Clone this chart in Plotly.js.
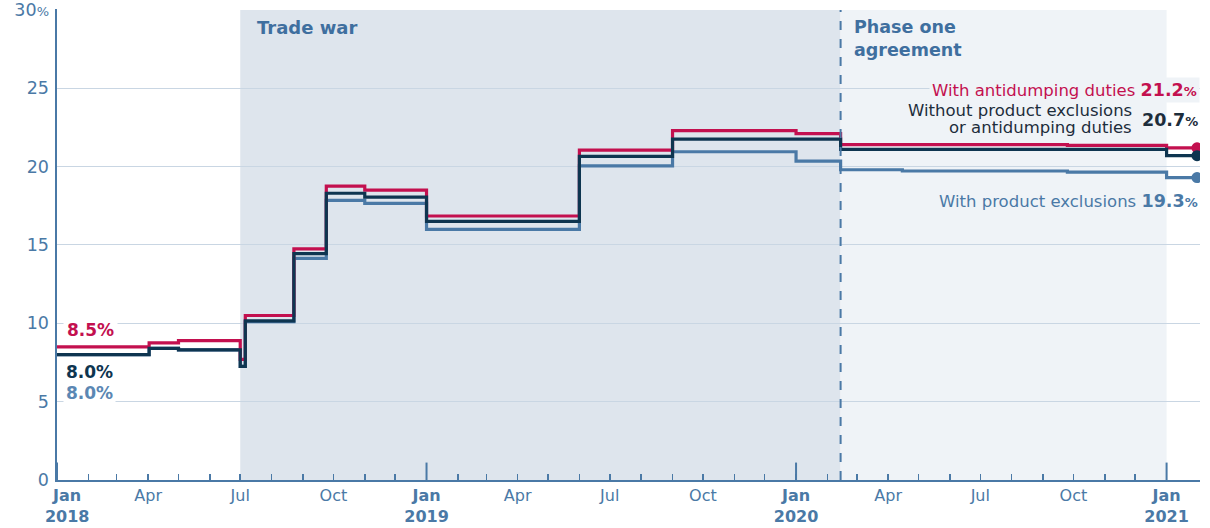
<!DOCTYPE html>
<html>
<head>
<meta charset="utf-8">
<script src="https://cdn.plot.ly/plotly-3.0.1.min.js"></script>
<style>html,body{margin:0;padding:0;background:#fff;}#chart{width:1210px;height:528px;}</style>
</head>
<body>
<div id="chart"></div>
<script>
// ---- data ----
const dates = ['2018-01-01','2018-04-02','2018-05-01','2018-07-01','2018-07-06','2018-08-23','2018-09-24','2018-11-01','2019-01-01','2019-06-01','2019-09-01','2020-01-01','2020-02-14','2020-04-15','2020-09-25','2021-01-01','2021-01-31'];
const withAntidumping = [8.5,8.75,8.9,7.7,10.5,14.75,18.75,18.5,16.85,21.05,22.3,22.1,21.4,21.4,21.35,21.2,21.2];
const withoutExclusions = [8.0,8.4,8.3,7.25,10.15,14.45,18.3,18.05,16.5,20.65,21.75,21.75,21.1,21.1,21.1,20.7,20.7];
const withExclusions = [8.0,8.4,8.3,7.25,10.1,14.15,17.85,17.65,16.0,20.05,20.95,20.35,19.8,19.72,19.65,19.3,19.3];
const seriesNames = ['With antidumping duties','Without product exclusions or antidumping duties','With product exclusions'];
const yTickVals = [0,5,10,15,20,25,30];
const yTickText = ['0','5','10','15','20','25','30<span style="font-size:13px">%</span>'];
const monthTicks = [];
for (let y = 2018; y <= 2021; y++) for (let m = 1; m <= 12; m++) { if (y === 2021 && m > 1) break; monthTicks.push(y + '-' + String(m).padStart(2,'0') + '-01'); }
const qLabels = {1:'Jan',4:'Apr',7:'Jul',10:'Oct'};
const PAD = '\u00a0\u00a0\u00a0\u00a0';
const monthText = monthTicks.map((d, i) => { const y = d.slice(0,4), m = +d.slice(5,7); const p = i === 0 ? PAD : '';
  if (m === 1) return p + '<b>Jan</b><br>' + p + '<b>' + y + '</b>'; return qLabels[m] || ''; });
const yearTicks = ['2018-01-01','2019-01-01','2020-01-01','2021-01-01'];
const tradeWar = ['2018-07-01','2020-02-14'];
const phaseOne = ['2020-02-14','2021-01-01'];

const RED = '#c3104f', DARK = '#0e3550', BLUE = '#4a79a6', AX = '#4a79a6';
const FONT = 'DejaVu Sans, sans-serif';
const LBL = 16.5;

const last = dates.length - 1;
function tr(vals, color, name) {
  return {x: dates, y: vals, type: 'scatter', mode: 'lines', name: name,
    line: {shape: 'hv', color: color, width: 3.2}, hoverinfo: 'skip'};
}
function dot(vals, color) {
  return {x: [dates[last]], y: [vals[last]], type: 'scatter', mode: 'markers',
    marker: {color: color, size: 11}, hoverinfo: 'skip', showlegend: false};
}
const data = [
  tr(withExclusions, BLUE, seriesNames[2]),
  tr(withAntidumping, RED, seriesNames[0]),
  tr(withoutExclusions, DARK, seriesNames[1]),
  dot(withExclusions, BLUE), dot(withAntidumping, RED), dot(withoutExclusions, DARK)
];

const shapes = [
  {type:'rect', xref:'x', yref:'y', x0:tradeWar[0], x1:tradeWar[1], y0:0, y1:30, fillcolor:'#dee5ed', line:{width:0}, layer:'below'},
  {type:'rect', xref:'x', yref:'y', x0:phaseOne[0], x1:phaseOne[1], y0:0, y1:30, fillcolor:'#eff3f7', line:{width:0}, layer:'below'},
  {type:'line', xref:'x', yref:'y', x0:phaseOne[0], x1:phaseOne[0], y0:0, y1:30, line:{color:AX, width:2, dash:'dash'}}
];
yearTicks.forEach(d => shapes.push({type:'line', xref:'x', yref:'paper', x0:d, x1:d, y0:0, y1:0.037, line:{color:AX, width:2}}));

const val = (v) => '<span style="font-size:17.5px"><b>' + v + '</b></span><span style="font-size:13px"><b>%</b></span>';
const annotations = [
  {x: tradeWar[0], y: 28.85, xref:'x', yref:'y', xanchor:'left', yanchor:'middle', xshift:15, showarrow:false,
   text:'<b>Trade war</b>', font:{family:FONT, size:18, color:'#3f6f9f'}},
  {x: phaseOne[0], y: 28.2, xref:'x', yref:'y', xanchor:'left', yanchor:'middle', xshift:11, showarrow:false, align:'left',
   text:'<b>Phase one</b><br><b>agreement</b>', font:{family:FONT, size:17.5, color:'#3f6f9f'}},
  {x: 1, y: 24.9, xref:'paper', yref:'y', xanchor:'right', yanchor:'middle', showarrow:false, bgcolor:'#eff3f7', borderpad:2,
   text:seriesNames[0] + ' ' + val('21.2'), font:{family:FONT, size:LBL, color:RED}},
  {x: 0.9423, y: 23.6, xref:'paper', yref:'y', xanchor:'right', yanchor:'middle', showarrow:false,
   text:'Without product exclusions', font:{family:FONT, size:LBL, color:'#1d2d3b'}},
  {x: 0.9423, y: 22.5, xref:'paper', yref:'y', xanchor:'right', yanchor:'middle', showarrow:false,
   text:'or antidumping duties', font:{family:FONT, size:LBL, color:'#1d2d3b'}},
  {x: 1, y: 23.0, xref:'paper', yref:'y', xanchor:'right', yanchor:'middle', showarrow:false,
   text: val('20.7'), font:{family:FONT, size:LBL, color:'#1d2d3b'}},
  {x: 1, y: 17.83, xref:'paper', yref:'y', xanchor:'right', yanchor:'middle', showarrow:false,
   text:seriesNames[2] + ' ' + val('19.3'), font:{family:FONT, size:LBL, color:BLUE}},
  {x: dates[0], y: 9.6, xref:'x', yref:'y', xanchor:'left', yanchor:'middle', xshift:6, showarrow:false, bgcolor:'#ffffff', borderpad:3,
   text:'<b>' + withAntidumping[0].toFixed(1) + '%</b>', font:{family:FONT, size:17, color:RED}},
  {x: dates[0], y: 6.9, xref:'x', yref:'y', xanchor:'left', yanchor:'middle', xshift:6, showarrow:false, bgcolor:'#ffffff', borderpad:2,
   text:'<b>' + withoutExclusions[0].toFixed(1) + '%</b>', font:{family:FONT, size:17, color:DARK}},
  {x: dates[0], y: 5.55, xref:'x', yref:'y', xanchor:'left', yanchor:'middle', xshift:6, showarrow:false, bgcolor:'#ffffff', borderpad:2,
   text:'<b>' + withExclusions[0].toFixed(1) + '%</b>', font:{family:FONT, size:17, color:'#5b87b3'}}
];

const layout = {
  width: 1210, height: 528,
  margin: {l:57, r:10, t:9, b:48},
  paper_bgcolor:'#ffffff', plot_bgcolor:'#ffffff',
  showlegend:false,
  font:{family:FONT, color:AX},
  xaxis: {type:'date', range:['2018-01-01','2021-02-03'], tickmode:'array', tickvals:monthTicks, ticktext:monthText,
    ticks:'inside', ticklen:6, tickwidth:1.5, tickcolor:AX, showgrid:false, zeroline:false, ticklabelstandoff:0,
    showline:true, linecolor:AX, linewidth:2, tickfont:{family:FONT, size:16, color:AX}, fixedrange:true},
  yaxis: {range:[0,30.06], tickmode:'array', tickvals:yTickVals, ticktext:yTickText, ticks:'', ticklabelstandoff:2,
    ticklabeloverflow:'allow',
    showgrid:true, gridcolor:'#c9d6e3', gridwidth:1, zeroline:false, showline:true, linecolor:AX, linewidth:2.5,
    tickfont:{family:FONT, size:17.5, color:AX}, fixedrange:true},
  shapes: shapes,
  annotations: annotations
};
Plotly.newPlot('chart', data, layout, {displayModeBar:false, staticPlot:true});
</script>
</body>
</html>
